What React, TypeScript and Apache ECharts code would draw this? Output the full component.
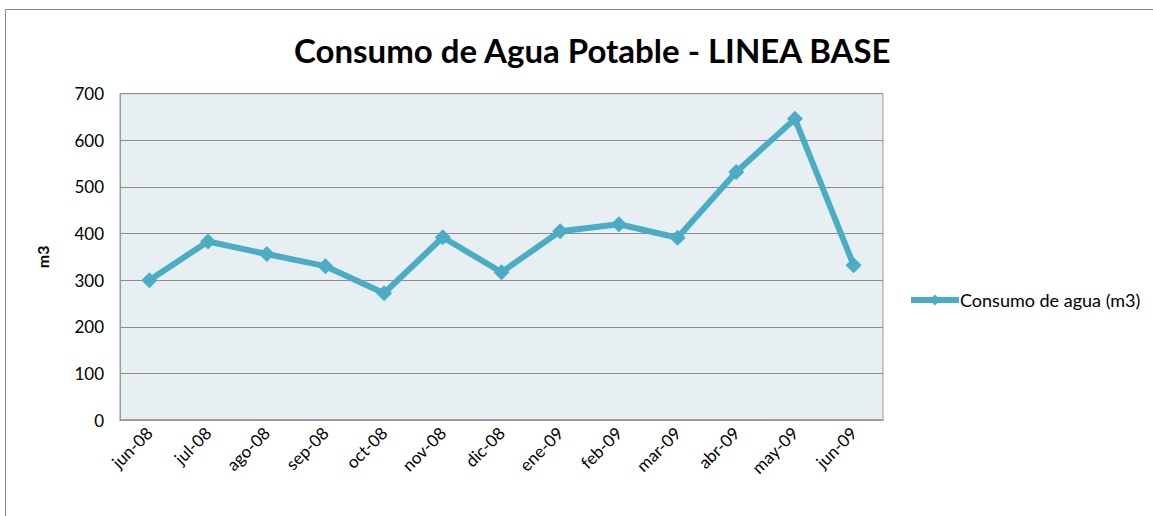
import React, { useEffect, useRef } from "react";
import * as echarts from "echarts";

const categories = ["jun-08", "jul-08", "ago-08", "sep-08", "oct-08", "nov-08", "dic-08", "ene-09", "feb-09", "mar-09", "abr-09", "may-09", "jun-09"];
const consumo = [300, 383, 356, 330, 272, 392, 317, 405, 420, 391, 532, 646, 332];
const seriesName = "Consumo de agua (m3)";
const titleText = "Consumo de Agua Potable - LINEA BASE";
const yAxisName = "m3";

export default function App() {
  const ref = useRef<HTMLDivElement>(null);
  useEffect(() => {
    const chart = echarts.init(ref.current!, null, { renderer: "svg" });
    const font = "Lato, 'Open Sans', sans-serif";
    chart.setOption({
      animation: false,
      backgroundColor: "#ffffff",
      title: {
        text: titleText,
        left: 289,
        top: 28,
        textStyle: { fontFamily: font, fontWeight: "bold", fontSize: 33, color: "#000" },
      },
      legend: {
        left: 903,
        top: 286,
        itemWidth: 48,
        itemHeight: 14,
        itemGap: 0,
        data: [{ name: seriesName }],
        lineStyle: { width: 6 },
        textStyle: { fontFamily: font, fontSize: 18, color: "#000", padding: [0, 0, 0, -4] },
      },
      graphic: [
        {
          type: "rect",
          shape: { x: 5.5, y: 9.5, width: 1160, height: 520 },
          style: { fill: "none", stroke: "#8a8a8a", lineWidth: 1 },
          silent: true,
          z: -1,
        },
      ],
      grid: {
        left: 120,
        top: 93.7,
        right: 270,
        bottom: 96,
        show: true,
        backgroundColor: "#E7EFF3",
        borderColor: "#999",
        borderWidth: 1,
      },
      xAxis: {
        type: "category",
        data: categories,
        boundaryGap: true,
        axisLine: { show: true, lineStyle: { color: "#999", width: 1.5 } },
        axisTick: { show: false },
        axisLabel: {
          rotate: 45,
          margin: 10,
          fontFamily: font,
          fontSize: 17,
          color: "#000",
        },
      },
      yAxis: {
        type: "value",
        min: 0,
        max: 700,
        interval: 100,
        name: yAxisName,
        nameLocation: "middle",
        nameGap: 70,
        nameRotate: 90,
        nameTextStyle: { fontFamily: font, fontWeight: "bold", fontSize: 16, color: "#000" },
        axisLine: { show: true, lineStyle: { color: "#999" } },
        axisTick: { show: false },
        axisLabel: { margin: 16, fontFamily: font, fontSize: 17, color: "#000" },
        splitLine: { show: true, lineStyle: { color: "#8c8c8c", width: 1 } },
      },
      series: [
        {
          name: seriesName,
          type: "line",
          data: consumo,
          symbol: "diamond",
          symbolSize: 16,
          lineStyle: { color: "#4BACC6", width: 6 },
          itemStyle: { color: "#4BACC6" },
        },
      ],
    });
    return () => chart.dispose();
  }, []);
  return (
    <div
      ref={ref}
      style={{ position: "fixed", left: 0, top: 0, width: 1153, height: 516 }}
    />
  );
}
